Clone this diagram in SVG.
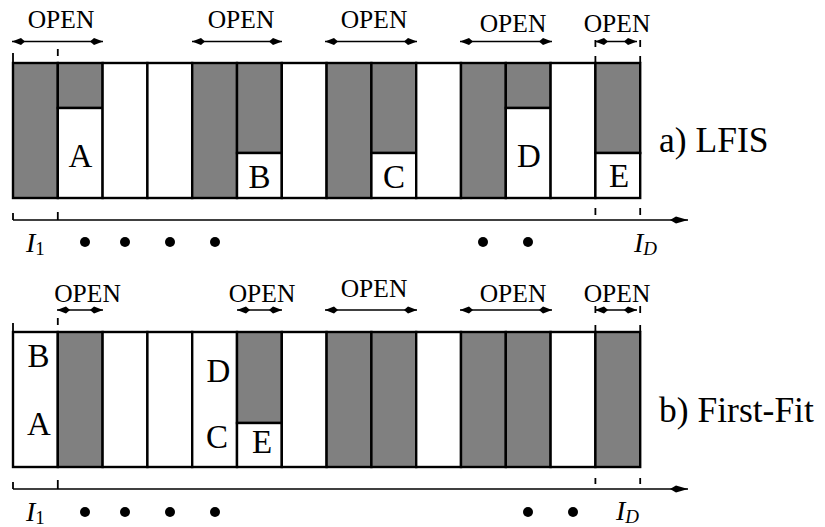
<svg xmlns="http://www.w3.org/2000/svg" width="825" height="527" viewBox="0 0 825 527" font-family="'Liberation Serif', 'DejaVu Serif', serif">
<defs>
<style>
.op{font-size:25.5px;text-anchor:middle}
.lt{font-size:33px;text-anchor:middle}
.lb{font-size:35.5px}
.it{font-size:28px;font-style:italic}
.sb{font-size:19px}
.g{fill:#808080;stroke:#000;stroke-width:2.4}
.w{fill:#fff;stroke:#000;stroke-width:2.4}
.tk{stroke:#000;stroke-width:1.8;fill:none}
.ar{stroke:#000;stroke-width:1.3;fill:none;marker-start:url(#oa);marker-end:url(#oa)}
.ax{stroke:#000;stroke-width:1.5;fill:none;marker-end:url(#axa)}
.dot{fill:#000}
</style>
<marker id="oa" viewBox="0 0 13 8" refX="13" refY="4" markerWidth="13" markerHeight="8" markerUnits="userSpaceOnUse" orient="auto-start-reverse">
<path d="M13,4 L4,0.6 L0,4 L4,7.4 Z" fill="#000"/>
</marker>
<marker id="axa" viewBox="0 0 18 8" refX="18" refY="4" markerWidth="18" markerHeight="8" markerUnits="userSpaceOnUse" orient="auto">
<path d="M18,4 L6,0.5 L0,4 L6,7.5 Z" fill="#000"/>
</marker>
</defs>
<rect width="825" height="527" fill="#fff"/>

<g id="panel-a">
<g id="a-bins">
<rect class="g" x="13" y="63" width="44.8" height="135"/>
<rect class="g" x="57.8" y="63" width="44.8" height="45"/>
<rect class="w" x="57.8" y="108" width="44.8" height="90"/>
<rect class="w" x="102.6" y="63" width="44.8" height="135"/>
<rect class="w" x="147.4" y="63" width="44.8" height="135"/>
<rect class="g" x="192.2" y="63" width="44.8" height="135"/>
<rect class="g" x="237" y="63" width="44.8" height="90"/>
<rect class="w" x="237" y="153" width="44.8" height="45"/>
<rect class="w" x="281.8" y="63" width="44.8" height="135"/>
<rect class="g" x="326.6" y="63" width="44.8" height="135"/>
<rect class="g" x="371.4" y="63" width="44.8" height="90"/>
<rect class="w" x="371.4" y="153" width="44.8" height="45"/>
<rect class="w" x="416.2" y="63" width="44.8" height="135"/>
<rect class="g" x="461" y="63" width="44.8" height="135"/>
<rect class="g" x="505.8" y="63" width="44.8" height="45"/>
<rect class="w" x="505.8" y="108" width="44.8" height="90"/>
<rect class="w" x="550.6" y="63" width="44.8" height="135"/>
<rect class="g" x="595.4" y="63" width="44.8" height="90"/>
<rect class="w" x="595.4" y="153" width="44.8" height="45"/>
</g>
<g id="a-items">
<text class="lt" x="80.5" y="167">A</text>
<text class="lt" x="259.5" y="188">B</text>
<text class="lt" x="394" y="188">C</text>
<text class="lt" x="529" y="167">D</text>
<text class="lt" x="619" y="187">E</text>
</g>
<g id="a-open">
<text class="op" x="61" y="27.5">OPEN</text>
<text class="op" x="241" y="27.5">OPEN</text>
<text class="op" x="374" y="27.5">OPEN</text>
<text class="op" x="513" y="32">OPEN</text>
<text class="op" x="617" y="32">OPEN</text>
</g>
<text id="a-label" class="lb" x="659" y="151.5">a) LFIS</text>
<g id="a-axis-labels">
<text class="it" x="26" y="252">I<tspan class="sb" font-style="normal" dy="3">1</tspan></text>
<text class="it" x="634" y="252">I<tspan class="sb" dy="3">D</tspan></text>
<circle class="dot" cx="85" cy="242" r="5"/>
<circle class="dot" cx="125" cy="242" r="5"/>
<circle class="dot" cx="170" cy="242" r="5"/>
<circle class="dot" cx="215" cy="242" r="5"/>
<circle class="dot" cx="483" cy="242" r="5"/>
<circle class="dot" cx="528" cy="242" r="5"/>
</g>
</g>

<g id="panel-b">
<g id="b-bins">
<rect class="w" x="13" y="332" width="44.8" height="135"/>
<rect class="g" x="57.8" y="332" width="44.8" height="135"/>
<rect class="w" x="102.6" y="332" width="44.8" height="135"/>
<rect class="w" x="147.4" y="332" width="44.8" height="135"/>
<rect class="w" x="192.2" y="332" width="44.8" height="135"/>
<rect class="g" x="237" y="332" width="44.8" height="91"/>
<rect class="w" x="237" y="423" width="44.8" height="44"/>
<rect class="w" x="281.8" y="332" width="44.8" height="135"/>
<rect class="g" x="326.6" y="332" width="44.8" height="135"/>
<rect class="g" x="371.4" y="332" width="44.8" height="135"/>
<rect class="w" x="416.2" y="332" width="44.8" height="135"/>
<rect class="g" x="461" y="332" width="44.8" height="135"/>
<rect class="g" x="505.8" y="332" width="44.8" height="135"/>
<rect class="w" x="550.6" y="332" width="44.8" height="135"/>
<rect class="g" x="595.4" y="332" width="44.8" height="135"/>
</g>
<g id="b-items">
<text class="lt" x="38.5" y="367">B</text>
<text class="lt" x="39" y="435">A</text>
<text class="lt" x="218.5" y="382">D</text>
<text class="lt" x="217" y="448">C</text>
<text class="lt" x="262" y="453">E</text>
</g>
<g id="b-open">
<text class="op" x="87.5" y="302">OPEN</text>
<text class="op" x="262" y="302">OPEN</text>
<text class="op" x="374" y="297">OPEN</text>
<text class="op" x="513" y="302">OPEN</text>
<text class="op" x="617" y="302">OPEN</text>
</g>
<text id="b-label" class="lb" x="659" y="421.5">b) First-Fit</text>
<g id="b-axis-labels">
<text class="it" x="26" y="521">I<tspan class="sb" font-style="normal" dy="3">1</tspan></text>
<text class="it" x="616" y="520">I<tspan class="sb" dy="3">D</tspan></text>
<circle class="dot" cx="85" cy="512" r="5"/>
<circle class="dot" cx="125" cy="512" r="5"/>
<circle class="dot" cx="170" cy="512" r="5"/>
<circle class="dot" cx="215" cy="512" r="5"/>
<circle class="dot" cx="528" cy="512" r="5"/>
<circle class="dot" cx="573" cy="512" r="5"/>
</g>
</g>

<g id="connectors">
<line class="ar" x1="12" y1="41.5" x2="103" y2="41.5"/>
<line class="ar" x1="192" y1="41.5" x2="282" y2="41.5"/>
<line class="ar" x1="325" y1="41.5" x2="417" y2="41.5"/>
<line class="ar" x1="460" y1="41.5" x2="552" y2="41.5"/>
<line class="ar" x1="595" y1="41.5" x2="637" y2="41.5"/>
<line class="ar" x1="57" y1="310" x2="103" y2="310"/>
<line class="ar" x1="237" y1="310" x2="282" y2="310"/>
<line class="ar" x1="325" y1="310" x2="417" y2="310"/>
<line class="ar" x1="460" y1="310" x2="552" y2="310"/>
<line class="ar" x1="595" y1="310" x2="637" y2="310"/>
<line class="ax" x1="13" y1="220" x2="688" y2="220"/>
<line class="ax" x1="13" y1="489" x2="688" y2="489"/>
<path class="tk" d="M13,53V63 M57.8,49V56 M595.4,40V47 M595.4,56V63 M640.2,40V47 M640.2,56V63"/>
<path class="tk" d="M13,213V220 M57.8,212V220 M595.4,208V215 M640.2,208V215"/>
<path class="tk" d="M13,323V332 M57.8,318V325 M595.4,306V313 M595.4,325V332 M640.2,306V313 M640.2,325V332"/>
<path class="tk" d="M13,482V489 M57.8,480V489 M595.4,478V484 M640.2,478V484"/>
</g>
</svg>
